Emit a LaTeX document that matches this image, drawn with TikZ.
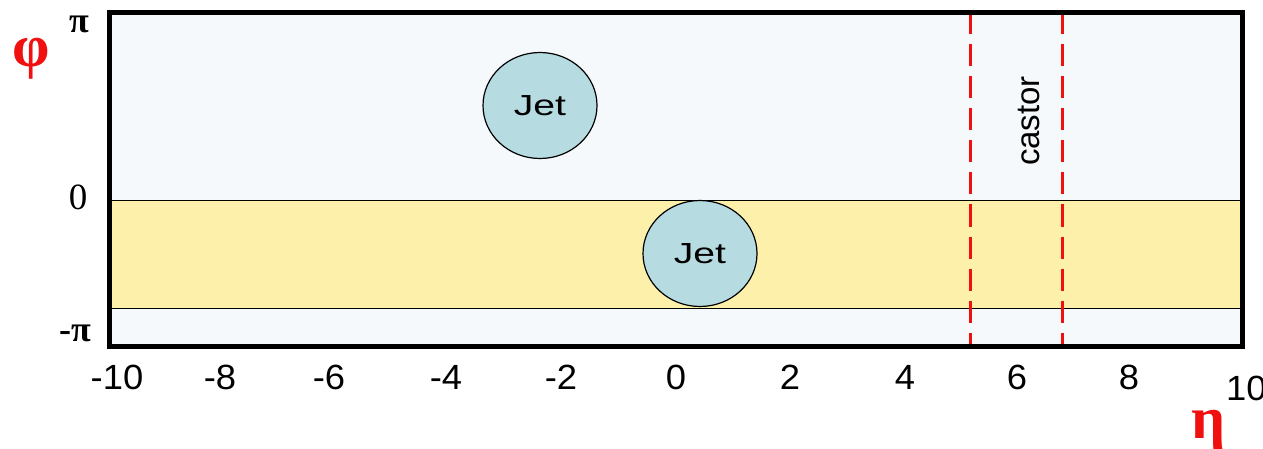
\documentclass[tikz,border=0pt]{standalone}
\usepackage{fontspec}
\setmainfont{Liberation Sans}
\newfontfamily\greekfont{Liberation Serif}
\usetikzlibrary{shapes.geometric}
\definecolor{bgblue}{HTML}{F5F9FC}
\definecolor{bandyellow}{HTML}{FCF0AA}
\definecolor{jetfill}{HTML}{B6DCE1}
\definecolor{axred}{HTML}{F01010}
\begin{document}
\begin{tikzpicture}[x=1pt,y=-1pt,
  jet/.style={ellipse,draw=black,line width=1.2pt,fill=jetfill,inner sep=0pt,
    minimum width=114pt,minimum height=106pt},
  jettext/.style={font=\fontsize{29}{31}\selectfont,inner sep=0pt,xscale=1.35},
  tick/.style={font=\fontsize{35}{37}\selectfont,inner sep=0pt,xscale=1.04},
  greektick/.style={font=\greekfont\bfseries\fontsize{36}{38}\selectfont,inner sep=0pt},
  axlabel/.style={font=\greekfont\bfseries\fontsize{60}{62}\selectfont,text=axred,inner sep=0pt},
  castorline/.style={draw=axred,line width=3pt,dash pattern=on 22pt off 10pt}]
\useasboundingbox (0,0) rectangle (1263,449);
\fill[bgblue] (109.5,12.5) rectangle (1242.5,346.5);
\fill[bandyellow] (109.5,200) rectangle (1242.5,308);
\draw[line width=0.8pt] (109.5,200) -- (1242.5,200);
\draw[line width=0.8pt] (109.5,308) -- (1242.5,308);
% jets
\node[jet] (jet1) at (540,105.5) {};
\node[jettext] (jet1t) at (jet1.center) {Jet};
\node[jet] (jet2) at (700,253.5) {};
\node[jettext] (jet2t) at (jet2.center) {Jet};
% castor lines
\coordinate (c1t) at (970,12.5); \coordinate (c1b) at (970,346.5);
\coordinate (c2t) at (1062,12.5); \coordinate (c2b) at (1062,346.5);
\draw[castorline] (c1t) -- (c1b);
\draw[castorline] (c2t) -- (c2b);
\node[rotate=90,font=\fontsize{33}{35}\selectfont,inner sep=0pt] (castor) at (1029,121) {castor};
% frame
\draw[line width=5pt] (109.5,12.5) rectangle (1242.5,346.5);
% y labels
\node[greektick] (ypi) at (79,24) {π};
\node[font=\greekfont\fontsize{37}{39}\selectfont,inner sep=0pt] (y0) at (78,197.5) {0};
\node[greektick] (ympi) at (75,333) {-π};
\node[axlabel] (phi) at (31,59) {φ};
% x labels
\foreach \v/\x in {-10/117,-8/220,-6/329,-4/446,-2/561,0/676,2/790,4/905,6/1017,8/1129}
  \node[tick] (x\v) at (\x,377.5) {\v};
\node[tick,anchor=west] (x10) at (1226,388.5) {10};
\node[axlabel,anchor=base] (eta) at (1209,438) {η};
\end{tikzpicture}
\end{document}
